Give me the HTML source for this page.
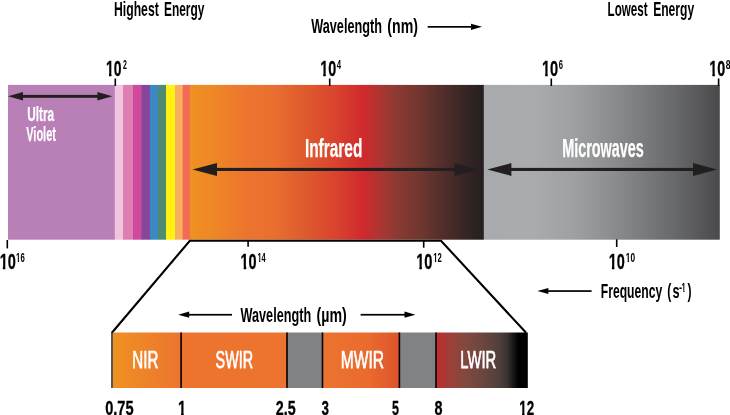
<!DOCTYPE html>
<html>
<head>
<meta charset="utf-8">
<title>Infrared spectrum</title>
<style>
html,body{margin:0;padding:0;background:#fff;}
svg{display:block;}
text{font-family:"Liberation Sans",sans-serif;}
.k{fill:#000;}
.w{fill:#fff;}
</style>
</head>
<body>
<svg width="730" height="415" viewBox="0 0 730 415">
<defs>
<linearGradient id="gir" x1="0" x2="1" y1="0" y2="0">
<stop offset="0" stop-color="#ef9122"/>
<stop offset="0.08" stop-color="#ee8726"/>
<stop offset="0.19" stop-color="#ec752e"/>
<stop offset="0.28" stop-color="#ea6f30"/>
<stop offset="0.39" stop-color="#de5b2e"/>
<stop offset="0.50" stop-color="#d9422d"/>
<stop offset="0.59" stop-color="#cf2a2e"/>
<stop offset="0.655" stop-color="#a83632"/>
<stop offset="0.695" stop-color="#8e3b33"/>
<stop offset="0.79" stop-color="#6e362f"/>
<stop offset="0.866" stop-color="#502d2a"/>
<stop offset="0.94" stop-color="#352524"/>
<stop offset="1" stop-color="#231f20"/>
</linearGradient>
<linearGradient id="gmw" x1="0" x2="1" y1="0" y2="0">
<stop offset="0" stop-color="#a8aaad"/>
<stop offset="0.2" stop-color="#a9abae"/>
<stop offset="0.38" stop-color="#9ea0a2"/>
<stop offset="0.55" stop-color="#8a8c8e"/>
<stop offset="0.8" stop-color="#696a6c"/>
<stop offset="1" stop-color="#4a4a4c"/>
</linearGradient>
<linearGradient id="gnir" x1="0" x2="1" y1="0" y2="0">
<stop offset="0" stop-color="#ef9122"/>
<stop offset="1" stop-color="#ec742f"/>
</linearGradient>
<linearGradient id="gmwir" x1="0" x2="1" y1="0" y2="0">
<stop offset="0" stop-color="#ec742f"/>
<stop offset="0.6" stop-color="#ea6a2e"/>
<stop offset="1" stop-color="#dd532c"/>
</linearGradient>
<linearGradient id="glwir" x1="0" x2="1" y1="0" y2="0">
<stop offset="0" stop-color="#c22a2f"/>
<stop offset="0.15" stop-color="#9c4038"/>
<stop offset="0.33" stop-color="#80493f"/>
<stop offset="0.51" stop-color="#6b463f"/>
<stop offset="0.69" stop-color="#4f403c"/>
<stop offset="0.775" stop-color="#3a3433"/>
<stop offset="0.85" stop-color="#151313"/>
<stop offset="0.90" stop-color="#000"/>
<stop offset="1" stop-color="#000"/>
</linearGradient>
</defs>

<!-- main band -->
<rect x="8" y="84.9" width="107" height="154.8" fill="#b97fb7"/>
<rect x="114.8" y="84.9" width="9" height="154.8" fill="#f1c5de"/>
<rect x="123" y="84.9" width="10.5" height="154.8" fill="#de7fb3"/>
<rect x="133" y="84.9" width="9" height="154.8" fill="#d04a9b"/>
<rect x="141.5" y="84.9" width="9" height="154.8" fill="#85469b"/>
<rect x="150" y="84.9" width="8.5" height="154.8" fill="#3b88c3"/>
<rect x="158" y="84.9" width="8.5" height="154.8" fill="#4f8a72"/>
<rect x="166" y="84.9" width="9.5" height="154.8" fill="#fff112"/>
<rect x="175" y="84.9" width="8" height="154.8" fill="#f8b05e"/>
<rect x="182.6" y="84.9" width="8" height="154.8" fill="#f26b55"/>
<rect x="190" y="84.9" width="294" height="154.8" fill="url(#gir)"/>
<rect x="483.8" y="84.9" width="236" height="154.8" fill="url(#gmw)"/>

<!-- zoom outline -->
<path d="M111.9 332.8 L189.8 240.75 L441 240.75 L526.1 332.8" fill="none" stroke="#000" stroke-width="2.1" stroke-linejoin="miter"/>

<!-- ticks -->
<g stroke="#000" stroke-width="1.6">
<line x1="115.3" y1="78.5" x2="115.3" y2="86"/>
<line x1="329.7" y1="78.5" x2="329.7" y2="86"/>
<line x1="551.3" y1="78.5" x2="551.3" y2="86"/>
<line x1="718.6" y1="78.5" x2="718.6" y2="86"/>
<line x1="7.3" y1="240" x2="7.3" y2="248.4"/>
<line x1="248.1" y1="240" x2="248.1" y2="246.7"/>
<line x1="423.7" y1="240" x2="423.7" y2="247.7"/>
<line x1="616.7" y1="239.3" x2="616.7" y2="247"/>
</g>

<!-- big arrows -->
<g fill="#231f20" stroke="none">
<rect x="20" y="94.9" width="82" height="2.9"/>
<path d="M8 96.3 L23 92.1 L23 100.5 Z"/>
<path d="M112.4 96.3 L97.4 92.1 L97.4 100.5 Z"/>
<rect x="210" y="167.9" width="250" height="3.1"/>
<path d="M192.5 169.5 L217 163 L217 176 Z"/>
<path d="M478.6 169.5 L454.6 163 L454.6 176 Z"/>
<rect x="505" y="167.9" width="195" height="3.1"/>
<path d="M487.3 169.5 L511.4 163 L511.4 176 Z"/>
<path d="M717 169.5 L693 163 L693 176 Z"/>
</g>

<!-- thin arrows -->
<g fill="#000" stroke="none">
<rect x="427.7" y="26" width="46" height="1.7"/>
<path d="M482 26.8 L471 23.7 L471 29.9 Z"/>
<rect x="546" y="290.2" width="45.6" height="1.7"/>
<path d="M537.4 291 L548.4 287.9 L548.4 294.1 Z"/>
<rect x="187" y="313.9" width="45" height="1.7"/>
<path d="M178.2 314.7 L189.2 311.6 L189.2 317.8 Z"/>
<rect x="360.6" y="313.9" width="46" height="1.7"/>
<path d="M415.5 314.7 L404.5 311.6 L404.5 317.8 Z"/>
</g>

<!-- lower panel -->
<rect x="113" y="332.5" width="68.5" height="55.5" fill="url(#gnir)"/>
<rect x="181" y="332.5" width="106" height="55.5" fill="#ec742f"/>
<rect x="287" y="332.5" width="35.5" height="55.5" fill="#808285"/>
<rect x="322.5" y="332.5" width="77" height="55.5" fill="url(#gmwir)"/>
<rect x="399.4" y="332.5" width="36.6" height="55.5" fill="#808285"/>
<rect x="436" y="332.5" width="91.8" height="55.5" fill="url(#glwir)"/>
<g stroke="#000" stroke-width="1.6">
<line x1="112" y1="332" x2="112" y2="388" stroke-width="1.4" stroke="#111"/>
<line x1="181.1" y1="332.5" x2="181.1" y2="388"/>
<line x1="287" y1="332.5" x2="287" y2="388"/>
<line x1="322.5" y1="332.5" x2="322.5" y2="388"/>
<line x1="399.4" y1="332.5" x2="399.4" y2="388"/>
<line x1="436" y1="332.5" x2="436" y2="388"/>
</g>

<!-- text -->
<defs>
<clipPath id="c12" clipPathUnits="userSpaceOnUse"><rect x="-10" y="277.70" width="760" height="12.33"/><rect x="683.26" y="289.93" width="1.24" height="3.67"/></clipPath>
<clipPath id="c14" clipPathUnits="userSpaceOnUse"><rect x="-10" y="51.70" width="760" height="21.30"/><rect x="109.03" y="72.90" width="2.42" height="4.70"/><rect x="113.96" y="72.90" width="60" height="4.70"/></clipPath>
<clipPath id="c16" clipPathUnits="userSpaceOnUse"><rect x="-10" y="51.70" width="760" height="21.30"/><rect x="323.30" y="72.90" width="2.47" height="4.70"/><rect x="328.34" y="72.90" width="60" height="4.70"/></clipPath>
<clipPath id="c18" clipPathUnits="userSpaceOnUse"><rect x="-10" y="51.70" width="760" height="21.30"/><rect x="545.16" y="72.90" width="2.51" height="4.70"/><rect x="550.28" y="72.90" width="60" height="4.70"/></clipPath>
<clipPath id="c20" clipPathUnits="userSpaceOnUse"><rect x="-10" y="51.70" width="760" height="21.30"/><rect x="712.40" y="72.90" width="2.47" height="4.70"/><rect x="717.44" y="72.90" width="60" height="4.70"/></clipPath>
<clipPath id="c22" clipPathUnits="userSpaceOnUse"><rect x="-10" y="244.70" width="760" height="21.30"/><rect x="2.84" y="265.90" width="2.50" height="4.70"/><rect x="7.93" y="265.90" width="60" height="4.70"/></clipPath>
<clipPath id="c23" clipPathUnits="userSpaceOnUse"><rect x="-10" y="248.00" width="760" height="12.33"/><rect x="17.83" y="260.23" width="1.27" height="3.67"/><rect x="20.79" y="260.23" width="60" height="3.67"/></clipPath>
<clipPath id="c24" clipPathUnits="userSpaceOnUse"><rect x="-10" y="244.70" width="760" height="21.30"/><rect x="243.72" y="265.90" width="2.49" height="4.70"/><rect x="248.79" y="265.90" width="60" height="4.70"/></clipPath>
<clipPath id="c25" clipPathUnits="userSpaceOnUse"><rect x="-10" y="248.00" width="760" height="12.33"/><rect x="259.08" y="260.23" width="1.23" height="3.67"/><rect x="261.93" y="260.23" width="60" height="3.67"/></clipPath>
<clipPath id="c26" clipPathUnits="userSpaceOnUse"><rect x="-10" y="244.70" width="760" height="21.30"/><rect x="419.36" y="265.90" width="2.51" height="4.70"/><rect x="424.48" y="265.90" width="60" height="4.70"/></clipPath>
<clipPath id="c27" clipPathUnits="userSpaceOnUse"><rect x="-10" y="248.00" width="760" height="12.33"/><rect x="434.92" y="260.23" width="1.26" height="3.67"/><rect x="437.84" y="260.23" width="60" height="3.67"/></clipPath>
<clipPath id="c28" clipPathUnits="userSpaceOnUse"><rect x="-10" y="244.70" width="760" height="21.30"/><rect x="611.92" y="265.90" width="2.49" height="4.70"/><rect x="616.99" y="265.90" width="60" height="4.70"/></clipPath>
<clipPath id="c29" clipPathUnits="userSpaceOnUse"><rect x="-10" y="248.00" width="760" height="12.33"/><rect x="627.62" y="260.23" width="1.34" height="3.67"/><rect x="630.73" y="260.23" width="60" height="3.67"/></clipPath>
<clipPath id="c31" clipPathUnits="userSpaceOnUse"><rect x="-10" y="391.50" width="760" height="20.41"/><rect x="181.15" y="411.81" width="2.49" height="4.59"/></clipPath>
<clipPath id="c36" clipPathUnits="userSpaceOnUse"><rect x="-10" y="391.50" width="760" height="20.41"/><rect x="522.13" y="411.81" width="2.34" height="4.59"/><rect x="526.88" y="411.81" width="60" height="4.59"/></clipPath>
</defs>
<g class="k" font-weight="bold">
<text x="114.04" y="16.4" font-size="20.5" textLength="44.72" lengthAdjust="spacingAndGlyphs">Highest</text>
<text x="163.95" y="16.4" font-size="20.5" textLength="40.47" lengthAdjust="spacingAndGlyphs">Energy</text>
<text x="607.57" y="16.2" font-size="20.5" textLength="39.98" lengthAdjust="spacingAndGlyphs">Lowest</text>
<text x="653.14" y="16.2" font-size="20.5" textLength="40.98" lengthAdjust="spacingAndGlyphs">Energy</text>
<text x="311.20" y="33.0" font-size="20.5" textLength="70.81" lengthAdjust="spacingAndGlyphs">Wavelength</text>
<text x="387.34" y="33.0" font-size="20.5" textLength="30.68" lengthAdjust="spacingAndGlyphs">(nm)</text>
<text x="240.50" y="321.5" font-size="20.5" textLength="70.71" lengthAdjust="spacingAndGlyphs">Wavelength</text>
<text x="316.53" y="321.5" font-size="20.5" textLength="30.28" lengthAdjust="spacingAndGlyphs">(µm)</text>
<text x="600.74" y="298.2" font-size="20.5" textLength="61.48" lengthAdjust="spacingAndGlyphs">Frequency</text>
<text x="667.23" y="298.2" font-size="20.5" textLength="4.04" lengthAdjust="spacingAndGlyphs">(</text>
<text x="672.40" y="298.2" font-size="20.5" textLength="7.12" lengthAdjust="spacingAndGlyphs">s</text>
<text x="678.91" y="291.9" font-size="12" textLength="3.13" lengthAdjust="spacingAndGlyphs">-</text>
<text x="681.58" y="291.7" font-size="12" textLength="4.23" lengthAdjust="spacingAndGlyphs" clip-path="url(#c12)">1</text>
<text x="687.50" y="298.2" font-size="20.5" textLength="4.04" lengthAdjust="spacingAndGlyphs">)</text>
<text x="122.88" y="68.6" font-size="12" textLength="3.89" lengthAdjust="spacingAndGlyphs">2</text>
<text x="336.80" y="68.6" font-size="12" textLength="4.35" lengthAdjust="spacingAndGlyphs">4</text>
<text x="558.86" y="68.6" font-size="12" textLength="4.23" lengthAdjust="spacingAndGlyphs">6</text>
<text x="725.63" y="68.6" font-size="12" textLength="4.78" lengthAdjust="spacingAndGlyphs">8</text>
<text x="16.11" y="262.0" font-size="12" textLength="8.68" lengthAdjust="spacingAndGlyphs" clip-path="url(#c23)">16</text>
<text x="257.43" y="262.0" font-size="12" textLength="8.32" lengthAdjust="spacingAndGlyphs" clip-path="url(#c25)">14</text>
<text x="433.22" y="262.0" font-size="12" textLength="8.57" lengthAdjust="spacingAndGlyphs" clip-path="url(#c27)">12</text>
<text x="625.78" y="262.0" font-size="12" textLength="9.26" lengthAdjust="spacingAndGlyphs" clip-path="url(#c29)">10</text>
</g>
<g class="k" font-weight="bold" stroke="#000" stroke-width="0.3">
<text x="106.02" y="75.7" font-size="22" textLength="15.55" lengthAdjust="spacingAndGlyphs" clip-path="url(#c14)">10</text>
<text x="320.20" y="75.7" font-size="22" textLength="15.98" lengthAdjust="spacingAndGlyphs" clip-path="url(#c16)">10</text>
<text x="541.98" y="75.7" font-size="22" textLength="16.31" lengthAdjust="spacingAndGlyphs" clip-path="url(#c18)">10</text>
<text x="709.30" y="75.7" font-size="22" textLength="15.98" lengthAdjust="spacingAndGlyphs" clip-path="url(#c20)">10</text>
<text x="-0.31" y="268.7" font-size="22" textLength="16.20" lengthAdjust="spacingAndGlyphs" clip-path="url(#c22)">10</text>
<text x="240.59" y="268.7" font-size="22" textLength="16.09" lengthAdjust="spacingAndGlyphs" clip-path="url(#c24)">10</text>
<text x="416.18" y="268.7" font-size="22" textLength="16.31" lengthAdjust="spacingAndGlyphs" clip-path="url(#c26)">10</text>
<text x="608.79" y="268.7" font-size="22" textLength="16.09" lengthAdjust="spacingAndGlyphs" clip-path="url(#c28)">10</text>
<text x="105.15" y="414.5" font-size="21" textLength="28.41" lengthAdjust="spacingAndGlyphs">0.75</text>
<text x="178.01" y="414.5" font-size="21" textLength="8.08" lengthAdjust="spacingAndGlyphs" clip-path="url(#c31)">1</text>
<text x="275.85" y="414.5" font-size="21" textLength="19.90" lengthAdjust="spacingAndGlyphs">2.5</text>
<text x="321.39" y="414.5" font-size="21" textLength="7.45" lengthAdjust="spacingAndGlyphs">3</text>
<text x="391.89" y="414.5" font-size="21" textLength="6.93" lengthAdjust="spacingAndGlyphs">5</text>
<text x="434.45" y="414.5" font-size="21" textLength="8.00" lengthAdjust="spacingAndGlyphs">8</text>
<text x="519.26" y="414.5" font-size="21" textLength="14.88" lengthAdjust="spacingAndGlyphs" clip-path="url(#c36)">12</text>
</g>
<g class="w" font-weight="bold" stroke="#fff" stroke-width="0.25" stroke-linejoin="round">
<text x="27.22" y="120.8" font-size="20.3" textLength="26.93" lengthAdjust="spacingAndGlyphs">Ultra</text>
<text x="26.17" y="141.2" font-size="20.3" textLength="29.82" lengthAdjust="spacingAndGlyphs">Violet</text>
<text x="304.91" y="157.1" font-size="25.8" textLength="57.40" lengthAdjust="spacingAndGlyphs">Infrared</text>
<text x="562.17" y="157.1" font-size="25.8" textLength="81.64" lengthAdjust="spacingAndGlyphs">Microwaves</text>
</g>
<g class="w" font-weight="normal" stroke="#fff" stroke-width="0.75" stroke-linejoin="round">
<text x="132.25" y="368.4" font-size="24" textLength="26.14" lengthAdjust="spacingAndGlyphs">NIR</text>
<text x="215.58" y="368.4" font-size="24" textLength="37.50" lengthAdjust="spacingAndGlyphs">SWIR</text>
<text x="340.72" y="368.4" font-size="24" textLength="43.37" lengthAdjust="spacingAndGlyphs">MWIR</text>
<text x="460.37" y="368.4" font-size="24" textLength="35.91" lengthAdjust="spacingAndGlyphs">LWIR</text>
</g>
</svg>
</body>
</html>
